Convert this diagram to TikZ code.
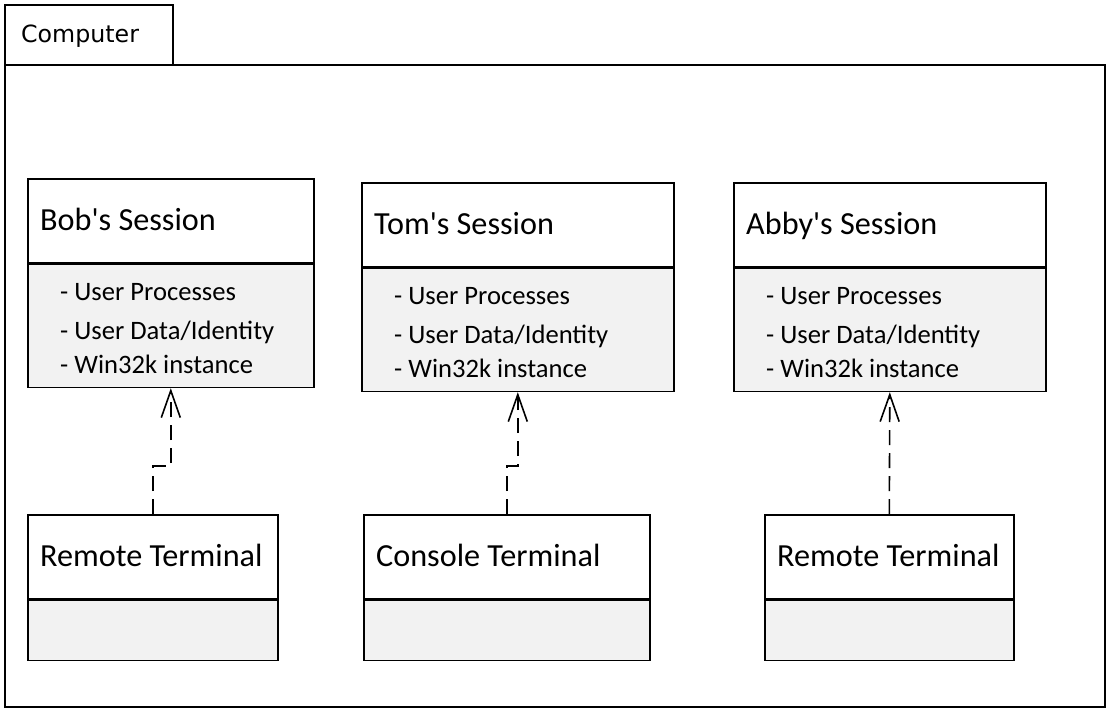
\documentclass[tikz,border=0pt]{standalone}
\usepackage{fontspec}
\newfontfamily\clfont[Ligatures=ResetAll]{Carlito}
\newfontfamily\djfont{DejaVu Sans}
\usepackage{xcolor}
\usetikzlibrary{positioning, arrows.meta}
\definecolor{bodyGray}{HTML}{F2F2F2}
\definecolor{lineInk}{HTML}{000000}
\tikzset{
  box/.style={draw=lineInk, line width=1.6pt, inner sep=0pt, anchor=north west},
  headbox/.style={box, fill=white},
  bodybox/.style={box, fill=bodyGray},
  titletext/.style={font=\clfont\fontsize{32.2}{36}\selectfont, inner sep=0pt, anchor=base west},
  itemtext/.style={font=\clfont\fontsize{26.6}{30}\selectfont, inner sep=0pt, anchor=base west},
  dep/.style={line width=1.6pt, draw=lineInk, dash pattern=on 15pt off 8pt,
    -{Straight Barb[length=27pt, width=19pt]}},
}

\begin{document}
\begin{tikzpicture}[x=1pt, y=-1pt]
        \useasboundingbox (0,0) rectangle (1116,717);
        % package frame
        \node[headbox, minimum width=168pt, minimum height=60pt] (tab) at (4,4) {};
        \node[headbox, minimum width=1100pt, minimum height=642pt] (computer) at (4,64) {};
        \node[font=\djfont\fontsize{23.7}{28}\selectfont, inner sep=0pt, anchor=base west] (tabname) at (21,43) {Computer};
        % sessions
        \foreach \n/\x/\y/\w/\t in {bob/27/178/286/{Bob's Session},tom/361/182/312/{Tom's Session},abby/733/182/312/{Abby's Session}} {
          \node[headbox, minimum width=\w pt, minimum height=84pt] (\n head) at (\x,\y) {};
          \node[bodybox, minimum width=\w pt, minimum height=123pt] (\n) at (\n head.south west) {};
          \node[titletext] (\n title) at (\x+13,\y+52) {\t};
          \node[itemtext] (\n proc) at (\x+33,\y+122) {- User Processes};
          \node[itemtext] (\n data) at (\x+33,\y+161) {- User Data/Identity};
          \node[itemtext] (\n win) at (\x+33,\y+195) {- Win32k instance};
        }
        % terminals
        \foreach \n/\x/\w/\t in {bobterm/27/250/{Remote Terminal},tomterm/363/286/{Console Terminal},abbyterm/764/249/{Remote Terminal}} {
          \node[headbox, minimum width=\w pt, minimum height=84pt] (\n) at (\x,514) {};
          \node[bodybox, minimum width=\w pt, minimum height=60pt] (\n body) at (\n.south west) {};
          \node[titletext] (\n title) at (\x+13,566) {\t};
        }
        \draw[dep] (bobterm.north) -- ++(0,-48) -| (bob.south);
        \draw[dep] (tomterm.north) -- ++(0,-48) -| (tom.south);
        \draw[dep] (abbyterm.north) -- (abby.south);
      \end{tikzpicture}
\end{document}
